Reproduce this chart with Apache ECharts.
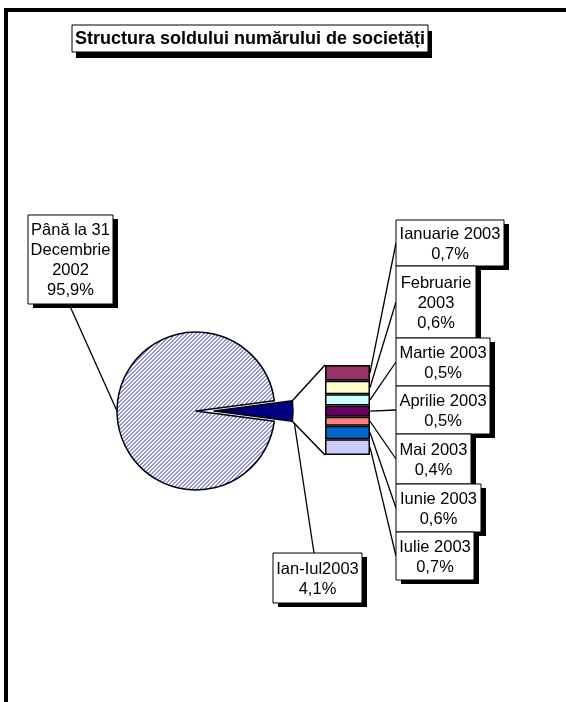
<!DOCTYPE html>
<html><head><meta charset="utf-8">
<script src="https://cdn.jsdelivr.net/npm/echarts@6/dist/echarts.min.js"></script>
<style>html,body{margin:0;padding:0;background:#fff}#c{width:566px;height:702px}</style>
</head><body><div id="c"></div>
<script>
// ---------- data ----------
const TITLE = 'Structura soldului numărului de societăți';
const PIE_NAMES = ['Ian-Iul2003', 'Până la 31 Decembrie 2002'];
const PIE_VALUES = [4.1, 95.9];
const BAR_NAMES = ['Ianuarie 2003', 'Februarie 2003', 'Martie 2003', 'Aprilie 2003', 'Mai 2003', 'Iunie 2003', 'Iulie 2003'];
const BAR_VALUES = [0.7, 0.6, 0.5, 0.5, 0.4, 0.6, 0.7];

// ---------- styles / layout ----------
const BAR_COLORS = ['#993366', '#FFFFCC', '#CCFFFF', '#660066', '#FF8080', '#0066CC', '#CCCCFF'];
const OTHER_COLOR = '#000080';
const FONT = '16.5px "Liberation Sans", Arial, sans-serif';
const TITLE_FONT = 'bold 18px "Liberation Sans", Arial, sans-serif';
const WRAP = { 'Februarie 2003': 'Februarie\n2003', 'Până la 31 Decembrie 2002': 'Până la 31\nDecembrie\n2002' };
const PIE_C = [196, 411], PIE_R = 79, PIE_OFF = 18;
const GRID = { left: 325, top: 365, width: 45, height: 90 };
const BAR_BOXES = [
  [396, 220, 108, 46], [396, 266, 80, 72], [396, 338, 94, 48], [396, 386, 94, 48],
  [396, 434, 75, 50], [396, 484, 85, 48], [396, 532, 78, 48]
];
const PIE_BOXES = [[273, 553, 89, 50], [28, 215, 85, 89]];
const TITLE_BOX = [72, 25, 356, 27];

const pct = v => v.toFixed(1).replace('.', ',') + '%';
const labelText = (n, v) => (WRAP[n] || n) + '\n' + pct(v);

// hatch pattern
const pc = document.createElement('canvas'); pc.width = 4; pc.height = 4;
const g = pc.getContext('2d');
g.fillStyle = '#ffffff'; g.fillRect(0, 0, 4, 4);
g.fillStyle = '#8f8ff2';
for (let x = 0; x < 4; x++) for (let y = 0; y < 4; y++) {
  const k = (x + y) % 4; if (k === 0 || k === 1) g.fillRect(x, y, 1, 1);
}

const chart = echarts.init(document.getElementById('c'), null, { renderer: 'canvas' });
const barTotal = BAR_VALUES.reduce((a, b) => a + b, 0);
const pieTotal = PIE_VALUES.reduce((a, b) => a + b, 0);
const halfDeg = PIE_VALUES[0] / pieTotal * 180;

chart.setOption({
  animation: false,
  backgroundColor: '#fff',
  grid: Object.assign({ containLabel: false }, GRID),
  xAxis: { type: 'category', data: ['s'], show: false },
  yAxis: { type: 'value', inverse: true, min: 0, max: barTotal, show: false },
  series: [
    {
      type: 'pie', center: PIE_C, radius: PIE_R, startAngle: halfDeg, clockwise: true,
      selectedMode: 'single', selectedOffset: PIE_OFF, avoidLabelOverlap: false,
      label: { show: false }, labelLine: { show: false }, emphasis: { disabled: true },
      itemStyle: { borderColor: '#000', borderWidth: 1.5 },
      data: [
        { name: PIE_NAMES[0], value: PIE_VALUES[0], selected: true, itemStyle: { color: OTHER_COLOR } },
        { name: PIE_NAMES[1], value: PIE_VALUES[1], itemStyle: { color: { image: pc, repeat: 'repeat' } } }
      ]
    }
  ].concat(BAR_NAMES.map((n, i) => ({
    type: 'bar', name: n, stack: 'o', barWidth: '100%', data: [BAR_VALUES[i]],
    emphasis: { disabled: true },
    itemStyle: { color: BAR_COLORS[i], borderColor: '#000', borderWidth: 1.5 }
  })))
});

// ---------- derived geometry ----------
const px = v => chart.convertToPixel({ gridIndex: 0 }, [0, v]);
const barL = px(0)[0] - GRID.width / 2, barR = px(0)[0] + GRID.width / 2;
const barTop = px(0)[1], barBot = px(barTotal)[1];
const hr = halfDeg * Math.PI / 180;
const sx = PIE_C[0] + PIE_OFF + PIE_R * Math.cos(hr);
const sTop = [sx, PIE_C[1] - PIE_R * Math.sin(hr)];
const sBot = [sx, PIE_C[1] + PIE_R * Math.sin(hr)];

const els = [];
const line = (a, b, w) => els.push({ type: 'line', z: 50, shape: { x1: a[0], y1: a[1], x2: b[0], y2: b[1] }, style: { stroke: '#000', lineWidth: w || 1.3 } });
const box = (b, txt, font, align, shx, shy) => {
  els.push({ type: 'rect', z: 60, shape: { x: b[0] + shx, y: b[1] + shy, width: b[2], height: b[3] }, style: { fill: '#000' } });
  els.push({ type: 'rect', z: 61, shape: { x: b[0], y: b[1], width: b[2], height: b[3] }, style: { fill: '#fff', stroke: '#000', lineWidth: 1 } });
  els.push({ type: 'text', z: 62, style: { text: txt, x: align === 'left' ? b[0] + 3 : b[0] + b[2] / 2, y: b[1] + b[3] / 2 + 1, align: align, verticalAlign: 'middle', font: font, lineHeight: 20, fill: '#000' } });
};

// frame
els.push({ type: 'rect', z: 40, shape: { x: 6, y: 10, width: 700, height: 800 }, style: { fill: 'none', stroke: '#000', lineWidth: 4 } });

// connectors slice -> bar
line(sTop, [barL, barTop], 1.5);
line(sBot, [barL, barBot], 1.5);

// bar leader lines
let cum = 0;
BAR_VALUES.forEach((v, i) => {
  const mid = px(cum + v / 2)[1]; cum += v;
  const b = BAR_BOXES[i];
  line([barR, mid], [b[0], b[1] + b[3] / 2]);
});
// pie leader lines
line([sBot[0] + 2, sBot[1] + 2], [PIE_BOXES[0][0] + 41, PIE_BOXES[0][1]]);
line([PIE_C[0] - PIE_R, PIE_C[1]], [PIE_BOXES[1][0] + 41, PIE_BOXES[1][1] + PIE_BOXES[1][3]]);

// boxes
box(TITLE_BOX, TITLE, TITLE_FONT, 'left', 4, 6);
PIE_VALUES.forEach((v, i) => box(PIE_BOXES[i], labelText(PIE_NAMES[i], v), FONT, 'center', 5, 4));
BAR_VALUES.forEach((v, i) => box(BAR_BOXES[i], labelText(BAR_NAMES[i], v), FONT, 'center', 5, 4));

chart.setOption({ graphic: { elements: els } });
</script></body></html>
